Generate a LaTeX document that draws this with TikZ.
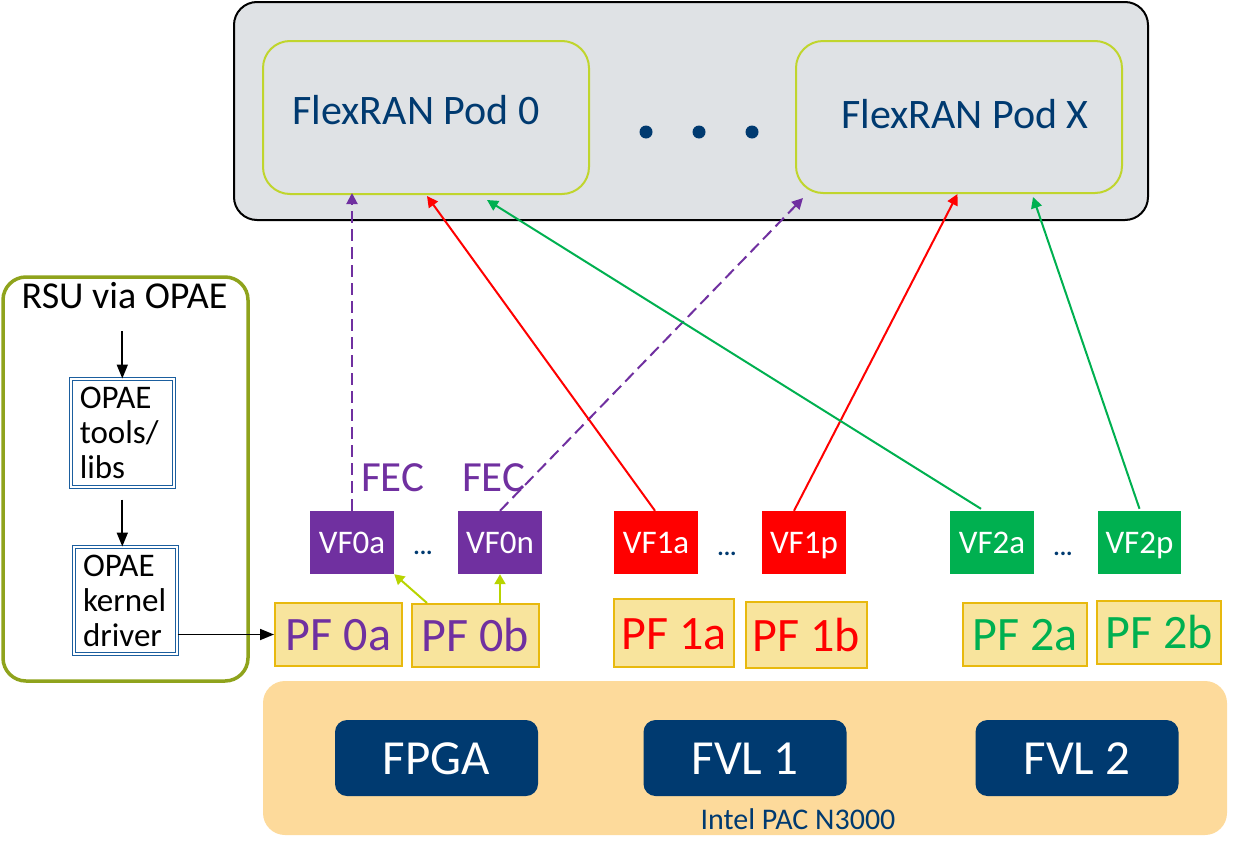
\documentclass[tikz,border=0pt]{standalone}
\usepackage{fontspec}
\setmainfont{Carlito}
\usetikzlibrary{arrows.meta,calc}
\definecolor{cpurple}{HTML}{7030A0}
\definecolor{cred}{HTML}{FF0000}
\definecolor{cgreen}{HTML}{00B050}
\definecolor{cdblue}{HTML}{003A70}
\definecolor{cgray}{HTML}{DFE2E5}
\definecolor{cpffill}{HTML}{F8E49D}
\definecolor{cpfdraw}{HTML}{E8B90E}
\definecolor{corange}{HTML}{FDDA9B}
\definecolor{cpodline}{HTML}{C0D52D}
\definecolor{clime}{HTML}{B8D400}
\definecolor{colive}{HTML}{8FA31C}
\definecolor{cboxblue}{HTML}{1B5E9E}
\newcommand{\fs}[1]{\fontsize{#1}{#1}\selectfont}
\newcommand{\fsopae}{\fontsize{33}{35}\selectfont}
\begin{document}
\begin{tikzpicture}[x=1pt,y=-1pt,
  hostbox/.style={draw=black,line width=2pt,fill=cgray,rounded corners=23pt,inner sep=0pt},
  podbox/.style={draw=cpodline,line width=2pt,fill=cgray,rounded corners=27pt,inner sep=0pt},
  podtxt/.style={anchor=base,inner sep=0pt,text=cdblue,font=\fs{42}},
  bigdot/.style={circle,fill=cdblue,inner sep=0pt,minimum size=13pt},
  rsubox/.style={draw=colive,line width=3.5pt,rounded corners=23pt,inner sep=0pt},
  opaebox/.style={draw=cboxblue,double=white,double distance=1.5pt,line width=1pt,
    align=left,text width=85pt,inner xsep=9pt,inner ysep=0pt,font=\fsopae},
  vfbox/.style={fill=#1,text=white,minimum width=84pt,minimum height=63pt,inner sep=0pt,
    font=\fs{33},text height=21pt,text depth=0pt},
  pfbox/.style={fill=cpffill,draw=cpfdraw,line width=2pt,text=#1,inner sep=0pt,
    font=\fs{48},text height=32pt,text depth=0pt},
  chipbox/.style={fill=cdblue,text=white,rounded corners=12pt,minimum width=203pt,minimum height=76pt,
    inner sep=0pt,font=\fs{49},text height=32pt,text depth=0pt},
  ell/.style={anchor=base,inner sep=0pt,text=cdblue,font=\fs{24}\bfseries},
  fec/.style={anchor=base west,inner sep=0pt,text=cpurple,font=\fs{43}},
  conn/.style={line width=2pt,-{Triangle[length=11pt,width=11pt]}},
  blkarr/.style={line width=1.8pt,-{Triangle[length=14pt,width=11pt]}},
  limearr/.style={draw=clime,line width=2pt,-{Triangle[length=10pt,width=11pt]}}
]
\useasboundingbox (0,0) rectangle (1245,857);

% host
\node[hostbox,minimum width=914pt,minimum height=218pt] (host) at (691,111) {};
\node[podbox,minimum width=326pt,minimum height=153pt] (pod0) at (426,117.5) {};
\node[podbox,minimum width=326pt,minimum height=152pt] (podX) at (959,117) {};
\node[podtxt] (pod0t) at (416,124) {FlexRAN Pod 0};
\node[podtxt] (podXt) at (965,128) {FlexRAN Pod X};
\node[bigdot] (d1) at (646,132) {};
\node[bigdot] (d2) at (699,132) {};
\node[bigdot] (d3) at (752,132) {};

% RSU box
\node[rsubox,minimum width=245pt,minimum height=404pt] (rsu) at (125.5,479) {};
\node[anchor=base,inner sep=0pt,font=\fs{38}] (rsut) at (124.5,308) {RSU via OPAE};
\node[opaebox,minimum width=103pt,minimum height=108pt] (tools) at (122.3,433) {OPAE\\tools/\\libs};
\node[opaebox,minimum width=103pt,minimum height=107pt] (kernel) at (125.5,600.5) {OPAE\\kernel\\driver};
\coordinate (rsuarr) at (122.3,331);

% bottom card
\node[fill=corange,rounded corners=22pt,minimum width=964pt,minimum height=154pt,inner sep=0pt] (card) at (745,758) {};
\node[chipbox] (fpga) at (436.5,758) {FPGA};
\node[chipbox] (fvl1) at (745,758) {FVL 1};
\node[chipbox] (fvl2) at (1077,758) {FVL 2};
\node[anchor=base,inner sep=0pt,text=cdblue,font=\fs{30}] (pac) at (798,829) {Intel PAC N3000};

% PF boxes
\node[pfbox=cpurple,minimum width=127pt,minimum height=63pt] (pf0a) at (338.5,634.5) {PF 0a};
\node[pfbox=cpurple,minimum width=127pt,minimum height=63pt] (pf0b) at (475.5,635.5) {PF 0b};
\node[pfbox=cred,minimum width=120pt,minimum height=68pt] (pf1a) at (674,633) {PF 1a};
\node[pfbox=cred,minimum width=121pt,minimum height=66pt] (pf1b) at (806.5,635) {PF 1b};
\node[pfbox=cgreen,minimum width=124pt,minimum height=63pt] (pf2a) at (1025,634.5) {PF 2a};
\node[pfbox=cgreen,minimum width=124pt,minimum height=63pt] (pf2b) at (1159,632.5) {PF 2b};

% VF boxes
\node[vfbox=cpurple] (vf0a) at (352,542.5) {VF0a};
\node[vfbox=cpurple] (vf0n) at (500,542.5) {VF0n};
\node[vfbox=cred] (vf1a) at (656,542.5) {VF1a};
\node[vfbox=cred] (vf1p) at (804,542.5) {VF1p};
\node[vfbox=cgreen] (vf2a) at (992,542.5) {VF2a};
\node[vfbox=cgreen,minimum width=83pt] (vf2p) at (1139.5,542.5) {VF2p};
\node[ell] (e0) at (423,554) {...};
\node[ell] (e1) at (727,555) {...};
\node[ell] (e2) at (1063,555) {...};
\node[fec] (fec0) at (361,491) {FEC};
\node[fec] (fec1) at (462,491) {FEC};

% left arrows
\draw[blkarr] (rsuarr) -- (tools.north);
\draw[blkarr] ($(tools.south)+(0,12)$) -- (tools.south |- kernel.north);
\draw[blkarr] (kernel.east |- pf0a.west) -- (pf0a.west);

% lime arrows
\draw[limearr] ($(pf0b.north)+(-48.5,0)$) -- (vf0a.south east);
\draw[limearr] (vf0n.south |- pf0b.north) -- (vf0n.south);

% VF to pods
\draw[conn,draw=cpurple,dash pattern=on 12pt off 6pt] (vf0a.north) -- ($(vf0a.north |- pod0.south)+(0,-2)$);
\draw[conn,draw=cpurple,dash pattern=on 12pt off 6pt] (vf0n.north) -- ($(podX.south west)+(8,4)$);
\draw[conn,draw=cred] ($(vf1a.north)+(-1,0)$) -- ($(pod0.south)+(1,1)$);
\draw[conn,draw=cred] ($(vf1p.north)+(-10,0)$) -- ($(podX.south)+(-1.5,0)$);
\draw[conn,draw=cgreen] ($(vf2a.north)+(-11,-2)$) -- ($(pod0.south)+(61,5)$);
\draw[conn,draw=cgreen] ($(vf2p.north)+(0,-2)$) -- ($(podX.south)+(74,3)$);
\end{tikzpicture}
\end{document}
